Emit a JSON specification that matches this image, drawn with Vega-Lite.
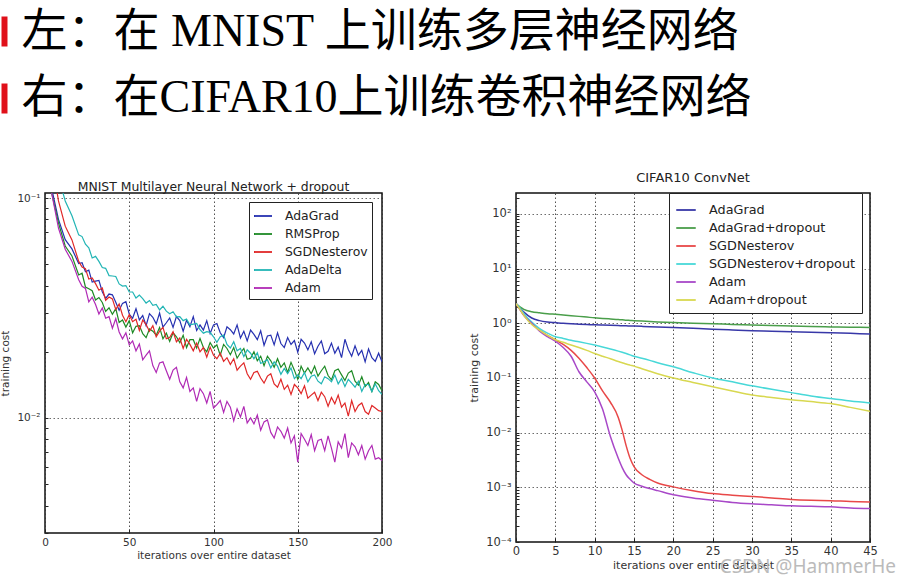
{
  "$schema": "https://vega.github.io/schema/vega-lite/v6.json",
  "padding": {"left": -14, "top": 0, "right": 0, "bottom": 0},
  "background": "white",
  "spacing": 40,
  "title": {"text": "CSDN @HammerHe", "orient": "bottom", "anchor": "end", "fontSize": 19, "color": "#bbbbbb", "font": "Noto Sans", "fontWeight": "normal", "offset": -13, "dx": 18},
  "config": {
    "font": "DejaVu Sans",
    "view": {"stroke": "#111", "strokeWidth": 1.5},
    "axis": {"labelFont": "DejaVu Sans", "titleFont": "DejaVu Sans", "labelColor": "#333", "titleColor": "#333", "titleFontWeight": "normal", "domain": false, "gridColor": "#333", "gridDash": [1.5, 2.5], "gridOpacity": 0.85, "tickColor": "#222"},
    "legend": {"labelFont": "DejaVu Sans", "labelColor": "#222", "symbolType": "stroke", "fillColor": "white", "strokeColor": "#222", "title": null}
  },
  "datasets": {
    "mnist": [
      {"it": 0, "AdaGrad": 0.25, "RMSProp": 0.2, "SGDNesterov": 0.35, "AdaDelta": 0.35, "Adam": 0.2},
      {"it": 4, "AdaGrad": 0.11, "RMSProp": 0.105, "SGDNesterov": 0.15, "AdaDelta": 0.2, "Adam": 0.105},
      {"it": 8, "AdaGrad": 0.080, "RMSProp": 0.077, "SGDNesterov": 0.097, "AdaDelta": 0.125, "Adam": 0.073},
      {"it": 12, "AdaGrad": 0.0647, "RMSProp": 0.0605, "SGDNesterov": 0.0745, "AdaDelta": 0.097, "Adam": 0.0585},
      {"it": 16, "AdaGrad": 0.0587, "RMSProp": 0.0545, "SGDNesterov": 0.0645, "AdaDelta": 0.083, "Adam": 0.0515},
      {"it": 20, "AdaGrad": 0.0504, "RMSProp": 0.0447, "SGDNesterov": 0.0515, "AdaDelta": 0.068, "Adam": 0.0425},
      {"it": 22, "AdaGrad": 0.0508, "RMSProp": 0.0455, "SGDNesterov": 0.0485, "AdaDelta": 0.0668, "Adam": 0.0397},
      {"it": 24, "AdaGrad": 0.0462, "RMSProp": 0.0394, "SGDNesterov": 0.0477, "AdaDelta": 0.0617, "Adam": 0.0388},
      {"it": 26, "AdaGrad": 0.0470, "RMSProp": 0.0387, "SGDNesterov": 0.0428, "AdaDelta": 0.0594, "Adam": 0.0337},
      {"it": 28, "AdaGrad": 0.0415, "RMSProp": 0.0379, "SGDNesterov": 0.0433, "AdaDelta": 0.0534, "Adam": 0.0354},
      {"it": 30, "AdaGrad": 0.0419, "RMSProp": 0.0344, "SGDNesterov": 0.0408, "AdaDelta": 0.0543, "Adam": 0.0328},
      {"it": 32, "AdaGrad": 0.0422, "RMSProp": 0.0353, "SGDNesterov": 0.0381, "AdaDelta": 0.0515, "Adam": 0.0297},
      {"it": 34, "AdaGrad": 0.0375, "RMSProp": 0.0335, "SGDNesterov": 0.0390, "AdaDelta": 0.0483, "Adam": 0.0316},
      {"it": 36, "AdaGrad": 0.0350, "RMSProp": 0.0305, "SGDNesterov": 0.0343, "AdaDelta": 0.0479, "Adam": 0.0284},
      {"it": 38, "AdaGrad": 0.0366, "RMSProp": 0.0317, "SGDNesterov": 0.0355, "AdaDelta": 0.0444, "Adam": 0.0289},
      {"it": 40, "AdaGrad": 0.0363, "RMSProp": 0.0296, "SGDNesterov": 0.0348, "AdaDelta": 0.0442, "Adam": 0.0256},
      {"it": 42, "AdaGrad": 0.0336, "RMSProp": 0.0314, "SGDNesterov": 0.0311, "AdaDelta": 0.0440, "Adam": 0.0283},
      {"it": 44, "AdaGrad": 0.0309, "RMSProp": 0.0272, "SGDNesterov": 0.0330, "AdaDelta": 0.0407, "Adam": 0.0246},
      {"it": 46, "AdaGrad": 0.0332, "RMSProp": 0.0279, "SGDNesterov": 0.0293, "AdaDelta": 0.0398, "Adam": 0.0229},
      {"it": 48, "AdaGrad": 0.0338, "RMSProp": 0.0259, "SGDNesterov": 0.0274, "AdaDelta": 0.0400, "Adam": 0.0244},
      {"it": 50, "AdaGrad": 0.0297, "RMSProp": 0.0277, "SGDNesterov": 0.0295, "AdaDelta": 0.0374, "Adam": 0.0215},
      {"it": 52, "AdaGrad": 0.0284, "RMSProp": 0.0244, "SGDNesterov": 0.0274, "AdaDelta": 0.0374, "Adam": 0.0224},
      {"it": 54, "AdaGrad": 0.0314, "RMSProp": 0.0261, "SGDNesterov": 0.0281, "AdaDelta": 0.0351, "Adam": 0.0202},
      {"it": 56, "AdaGrad": 0.0279, "RMSProp": 0.0263, "SGDNesterov": 0.0250, "AdaDelta": 0.0362, "Adam": 0.0217},
      {"it": 58, "AdaGrad": 0.0292, "RMSProp": 0.0242, "SGDNesterov": 0.0279, "AdaDelta": 0.0349, "Adam": 0.0184},
      {"it": 60, "AdaGrad": 0.0263, "RMSProp": 0.0232, "SGDNesterov": 0.0266, "AdaDelta": 0.0333, "Adam": 0.0193},
      {"it": 62, "AdaGrad": 0.0298, "RMSProp": 0.0254, "SGDNesterov": 0.0248, "AdaDelta": 0.0342, "Adam": 0.0202},
      {"it": 64, "AdaGrad": 0.0287, "RMSProp": 0.0248, "SGDNesterov": 0.0263, "AdaDelta": 0.0325, "Adam": 0.0173},
      {"it": 66, "AdaGrad": 0.0268, "RMSProp": 0.0238, "SGDNesterov": 0.0234, "AdaDelta": 0.0328, "Adam": 0.0161},
      {"it": 68, "AdaGrad": 0.0300, "RMSProp": 0.0258, "SGDNesterov": 0.0248, "AdaDelta": 0.0310, "Adam": 0.0178},
      {"it": 70, "AdaGrad": 0.0259, "RMSProp": 0.0229, "SGDNesterov": 0.0258, "AdaDelta": 0.0322, "Adam": 0.0180},
      {"it": 72, "AdaGrad": 0.0271, "RMSProp": 0.0243, "SGDNesterov": 0.0229, "AdaDelta": 0.0306, "Adam": 0.0164},
      {"it": 74, "AdaGrad": 0.0285, "RMSProp": 0.0223, "SGDNesterov": 0.0232, "AdaDelta": 0.0298, "Adam": 0.0150},
      {"it": 76, "AdaGrad": 0.0258, "RMSProp": 0.0244, "SGDNesterov": 0.0247, "AdaDelta": 0.0304, "Adam": 0.0165},
      {"it": 78, "AdaGrad": 0.0289, "RMSProp": 0.0234, "SGDNesterov": 0.0222, "AdaDelta": 0.0288, "Adam": 0.0170},
      {"it": 80, "AdaGrad": 0.0277, "RMSProp": 0.0220, "SGDNesterov": 0.0231, "AdaDelta": 0.0289, "Adam": 0.0146},
      {"it": 82, "AdaGrad": 0.0248, "RMSProp": 0.0238, "SGDNesterov": 0.0207, "AdaDelta": 0.0277, "Adam": 0.0137},
      {"it": 84, "AdaGrad": 0.0278, "RMSProp": 0.0209, "SGDNesterov": 0.0228, "AdaDelta": 0.0282, "Adam": 0.0153},
      {"it": 86, "AdaGrad": 0.0260, "RMSProp": 0.0227, "SGDNesterov": 0.0216, "AdaDelta": 0.0265, "Adam": 0.0132},
      {"it": 88, "AdaGrad": 0.0289, "RMSProp": 0.0227, "SGDNesterov": 0.0202, "AdaDelta": 0.0267, "Adam": 0.0137},
      {"it": 90, "AdaGrad": 0.0250, "RMSProp": 0.0208, "SGDNesterov": 0.0219, "AdaDelta": 0.0269, "Adam": 0.0119},
      {"it": 92, "AdaGrad": 0.0265, "RMSProp": 0.0230, "SGDNesterov": 0.0200, "AdaDelta": 0.0252, "Adam": 0.0136},
      {"it": 94, "AdaGrad": 0.0251, "RMSProp": 0.0209, "SGDNesterov": 0.0209, "AdaDelta": 0.0243, "Adam": 0.0129},
      {"it": 96, "AdaGrad": 0.0277, "RMSProp": 0.0200, "SGDNesterov": 0.0189, "AdaDelta": 0.0247, "Adam": 0.0117},
      {"it": 98, "AdaGrad": 0.0242, "RMSProp": 0.0220, "SGDNesterov": 0.0210, "AdaDelta": 0.0245, "Adam": 0.0132},
      {"it": 100, "AdaGrad": 0.0265, "RMSProp": 0.0208, "SGDNesterov": 0.0193, "AdaDelta": 0.0234, "Adam": 0.0111},
      {"it": 102, "AdaGrad": 0.0269, "RMSProp": 0.0215, "SGDNesterov": 0.0186, "AdaDelta": 0.0221, "Adam": 0.0115},
      {"it": 104, "AdaGrad": 0.0244, "RMSProp": 0.0193, "SGDNesterov": 0.0197, "AdaDelta": 0.0234, "Adam": 0.0120},
      {"it": 106, "AdaGrad": 0.0232, "RMSProp": 0.0216, "SGDNesterov": 0.0181, "AdaDelta": 0.0238, "Adam": 0.0106},
      {"it": 108, "AdaGrad": 0.0260, "RMSProp": 0.0207, "SGDNesterov": 0.0188, "AdaDelta": 0.0216, "Adam": 0.0119},
      {"it": 110, "AdaGrad": 0.0252, "RMSProp": 0.0194, "SGDNesterov": 0.0175, "AdaDelta": 0.0208, "Adam": 0.0112},
      {"it": 112, "AdaGrad": 0.0241, "RMSProp": 0.0209, "SGDNesterov": 0.0186, "AdaDelta": 0.0222, "Adam": 0.0097},
      {"it": 114, "AdaGrad": 0.0265, "RMSProp": 0.0187, "SGDNesterov": 0.0165, "AdaDelta": 0.0202, "Adam": 0.0110},
      {"it": 116, "AdaGrad": 0.0231, "RMSProp": 0.0198, "SGDNesterov": 0.0172, "AdaDelta": 0.0207, "Adam": 0.0101},
      {"it": 118, "AdaGrad": 0.0248, "RMSProp": 0.0207, "SGDNesterov": 0.0178, "AdaDelta": 0.0190, "Adam": 0.0113},
      {"it": 120, "AdaGrad": 0.0224, "RMSProp": 0.0185, "SGDNesterov": 0.0159, "AdaDelta": 0.0204, "Adam": 0.0095},
      {"it": 122, "AdaGrad": 0.0251, "RMSProp": 0.0187, "SGDNesterov": 0.0150, "AdaDelta": 0.0197, "Adam": 0.0100},
      {"it": 124, "AdaGrad": 0.0240, "RMSProp": 0.0200, "SGDNesterov": 0.0161, "AdaDelta": 0.0186, "Adam": 0.0094},
      {"it": 126, "AdaGrad": 0.0227, "RMSProp": 0.0182, "SGDNesterov": 0.0163, "AdaDelta": 0.0198, "Adam": 0.0103},
      {"it": 128, "AdaGrad": 0.0249, "RMSProp": 0.0191, "SGDNesterov": 0.0152, "AdaDelta": 0.0177, "Adam": 0.0088},
      {"it": 130, "AdaGrad": 0.0214, "RMSProp": 0.0173, "SGDNesterov": 0.0144, "AdaDelta": 0.0180, "Adam": 0.0096},
      {"it": 132, "AdaGrad": 0.0236, "RMSProp": 0.0191, "SGDNesterov": 0.0155, "AdaDelta": 0.0184, "Adam": 0.0098},
      {"it": 134, "AdaGrad": 0.0238, "RMSProp": 0.0182, "SGDNesterov": 0.0159, "AdaDelta": 0.0169, "Adam": 0.0086},
      {"it": 136, "AdaGrad": 0.0215, "RMSProp": 0.0170, "SGDNesterov": 0.0143, "AdaDelta": 0.0180, "Adam": 0.0081},
      {"it": 138, "AdaGrad": 0.0244, "RMSProp": 0.0186, "SGDNesterov": 0.0138, "AdaDelta": 0.0172, "Adam": 0.0091},
      {"it": 140, "AdaGrad": 0.0218, "RMSProp": 0.0170, "SGDNesterov": 0.0150, "AdaDelta": 0.0158, "Adam": 0.0087},
      {"it": 142, "AdaGrad": 0.0209, "RMSProp": 0.0178, "SGDNesterov": 0.0135, "AdaDelta": 0.0168, "Adam": 0.0081},
      {"it": 144, "AdaGrad": 0.0232, "RMSProp": 0.0161, "SGDNesterov": 0.0141, "AdaDelta": 0.0159, "Adam": 0.0090},
      {"it": 146, "AdaGrad": 0.0216, "RMSProp": 0.0179, "SGDNesterov": 0.0128, "AdaDelta": 0.0169, "Adam": 0.0077},
      {"it": 148, "AdaGrad": 0.0225, "RMSProp": 0.0165, "SGDNesterov": 0.0142, "AdaDelta": 0.0151, "Adam": 0.0083},
      {"it": 150, "AdaGrad": 0.0199, "RMSProp": 0.0150, "SGDNesterov": 0.0137, "AdaDelta": 0.0157, "Adam": 0.0063},
      {"it": 152, "AdaGrad": 0.0228, "RMSProp": 0.0172, "SGDNesterov": 0.0129, "AdaDelta": 0.0151, "Adam": 0.0085},
      {"it": 154, "AdaGrad": 0.0219, "RMSProp": 0.0160, "SGDNesterov": 0.0140, "AdaDelta": 0.0161, "Adam": 0.0080},
      {"it": 156, "AdaGrad": 0.0204, "RMSProp": 0.0169, "SGDNesterov": 0.0123, "AdaDelta": 0.0146, "Adam": 0.0075},
      {"it": 158, "AdaGrad": 0.0222, "RMSProp": 0.0159, "SGDNesterov": 0.0127, "AdaDelta": 0.0155, "Adam": 0.0084},
      {"it": 160, "AdaGrad": 0.0196, "RMSProp": 0.0172, "SGDNesterov": 0.0131, "AdaDelta": 0.0157, "Adam": 0.0071},
      {"it": 162, "AdaGrad": 0.0212, "RMSProp": 0.0155, "SGDNesterov": 0.0120, "AdaDelta": 0.0147, "Adam": 0.0079},
      {"it": 164, "AdaGrad": 0.0224, "RMSProp": 0.0164, "SGDNesterov": 0.0131, "AdaDelta": 0.0143, "Adam": 0.0080},
      {"it": 166, "AdaGrad": 0.0196, "RMSProp": 0.0172, "SGDNesterov": 0.0125, "AdaDelta": 0.0154, "Adam": 0.0071},
      {"it": 168, "AdaGrad": 0.0201, "RMSProp": 0.0156, "SGDNesterov": 0.0113, "AdaDelta": 0.0151, "Adam": 0.0083},
      {"it": 170, "AdaGrad": 0.0219, "RMSProp": 0.0149, "SGDNesterov": 0.0124, "AdaDelta": 0.0146, "Adam": 0.0073},
      {"it": 172, "AdaGrad": 0.0197, "RMSProp": 0.0164, "SGDNesterov": 0.0116, "AdaDelta": 0.0157, "Adam": 0.0063},
      {"it": 174, "AdaGrad": 0.0210, "RMSProp": 0.0167, "SGDNesterov": 0.0127, "AdaDelta": 0.0143, "Adam": 0.0078},
      {"it": 176, "AdaGrad": 0.0188, "RMSProp": 0.0157, "SGDNesterov": 0.0112, "AdaDelta": 0.0151, "Adam": 0.0073},
      {"it": 178, "AdaGrad": 0.0228, "RMSProp": 0.0148, "SGDNesterov": 0.0117, "AdaDelta": 0.0139, "Adam": 0.0085},
      {"it": 180, "AdaGrad": 0.0205, "RMSProp": 0.0160, "SGDNesterov": 0.0102, "AdaDelta": 0.0150, "Adam": 0.0066},
      {"it": 182, "AdaGrad": 0.0191, "RMSProp": 0.0164, "SGDNesterov": 0.0120, "AdaDelta": 0.0144, "Adam": 0.0077},
      {"it": 184, "AdaGrad": 0.0213, "RMSProp": 0.0147, "SGDNesterov": 0.0107, "AdaDelta": 0.0138, "Adam": 0.0074},
      {"it": 186, "AdaGrad": 0.0193, "RMSProp": 0.0141, "SGDNesterov": 0.0114, "AdaDelta": 0.0147, "Adam": 0.0068},
      {"it": 188, "AdaGrad": 0.0203, "RMSProp": 0.0154, "SGDNesterov": 0.0117, "AdaDelta": 0.0132, "Adam": 0.0075},
      {"it": 190, "AdaGrad": 0.0180, "RMSProp": 0.0139, "SGDNesterov": 0.0107, "AdaDelta": 0.0142, "Adam": 0.0065},
      {"it": 192, "AdaGrad": 0.0206, "RMSProp": 0.0145, "SGDNesterov": 0.0104, "AdaDelta": 0.0142, "Adam": 0.0071},
      {"it": 194, "AdaGrad": 0.0188, "RMSProp": 0.0132, "SGDNesterov": 0.0114, "AdaDelta": 0.0132, "Adam": 0.0075},
      {"it": 196, "AdaGrad": 0.0181, "RMSProp": 0.0146, "SGDNesterov": 0.0111, "AdaDelta": 0.0143, "Adam": 0.0065},
      {"it": 198, "AdaGrad": 0.0197, "RMSProp": 0.0142, "SGDNesterov": 0.0108, "AdaDelta": 0.0133, "Adam": 0.0066},
      {"it": 200, "AdaGrad": 0.0180, "RMSProp": 0.0133, "SGDNesterov": 0.0107, "AdaDelta": 0.0128, "Adam": 0.0064}
    ],
    "cifar": [
      {"it": 0, "AdaGrad": 2.3, "AdaGrad+dropout": 2.3, "SGDNesterov": 2.3, "SGDNesterov+dropout": 2.3, "Adam": 2.3, "Adam+dropout": 2.3},
      {"it": 0.5, "AdaGrad": 1.9, "AdaGrad+dropout": 2.0, "SGDNesterov": 1.8, "SGDNesterov+dropout": 1.9, "Adam": 1.8, "Adam+dropout": 1.8},
      {"it": 1, "AdaGrad": 1.6, "AdaGrad+dropout": 1.8, "SGDNesterov": 1.4, "SGDNesterov+dropout": 1.5, "Adam": 1.4, "Adam+dropout": 1.4},
      {"it": 2, "AdaGrad": 1.25, "AdaGrad+dropout": 1.63, "SGDNesterov": 1.0, "SGDNesterov+dropout": 1.05, "Adam": 1.0, "Adam+dropout": 0.95},
      {"it": 3, "AdaGrad": 1.12, "AdaGrad+dropout": 1.56, "SGDNesterov": 0.75, "SGDNesterov+dropout": 0.8, "Adam": 0.72, "Adam+dropout": 0.75},
      {"it": 4, "AdaGrad": 1.06, "AdaGrad+dropout": 1.5, "SGDNesterov": 0.6, "SGDNesterov+dropout": 0.66, "Adam": 0.57, "Adam+dropout": 0.6},
      {"it": 5, "AdaGrad": 1.03, "AdaGrad+dropout": 1.46, "SGDNesterov": 0.5, "SGDNesterov+dropout": 0.57, "Adam": 0.47, "Adam+dropout": 0.5},
      {"it": 6, "AdaGrad": 1.0, "AdaGrad+dropout": 1.42, "SGDNesterov": 0.41, "SGDNesterov+dropout": 0.53, "Adam": 0.36, "Adam+dropout": 0.45},
      {"it": 7, "AdaGrad": 0.98, "AdaGrad+dropout": 1.38, "SGDNesterov": 0.32, "SGDNesterov+dropout": 0.49, "Adam": 0.25, "Adam+dropout": 0.4},
      {"it": 8, "AdaGrad": 0.965, "AdaGrad+dropout": 1.34, "SGDNesterov": 0.23, "SGDNesterov+dropout": 0.46, "Adam": 0.13, "Adam+dropout": 0.36},
      {"it": 9, "AdaGrad": 0.95, "AdaGrad+dropout": 1.3, "SGDNesterov": 0.155, "SGDNesterov+dropout": 0.43, "Adam": 0.085, "Adam+dropout": 0.32},
      {"it": 10, "AdaGrad": 0.94, "AdaGrad+dropout": 1.26, "SGDNesterov": 0.1, "SGDNesterov+dropout": 0.40, "Adam": 0.056, "Adam+dropout": 0.28},
      {"it": 11, "AdaGrad": 0.93, "AdaGrad+dropout": 1.23, "SGDNesterov": 0.058, "SGDNesterov+dropout": 0.37, "Adam": 0.027, "Adam+dropout": 0.25},
      {"it": 12, "AdaGrad": 0.92, "AdaGrad+dropout": 1.2, "SGDNesterov": 0.036, "SGDNesterov+dropout": 0.34, "Adam": 0.0085, "Adam+dropout": 0.225},
      {"it": 13, "AdaGrad": 0.91, "AdaGrad+dropout": 1.17, "SGDNesterov": 0.019, "SGDNesterov+dropout": 0.31, "Adam": 0.0034, "Adam+dropout": 0.2},
      {"it": 13.5, "AdaGrad": 0.905, "AdaGrad+dropout": 1.16, "SGDNesterov": 0.011, "SGDNesterov+dropout": 0.295, "Adam": 0.0023, "Adam+dropout": 0.19},
      {"it": 14, "AdaGrad": 0.9, "AdaGrad+dropout": 1.14, "SGDNesterov": 0.0058, "SGDNesterov+dropout": 0.28, "Adam": 0.0017, "Adam+dropout": 0.18},
      {"it": 14.5, "AdaGrad": 0.895, "AdaGrad+dropout": 1.13, "SGDNesterov": 0.0034, "SGDNesterov+dropout": 0.265, "Adam": 0.0014, "Adam+dropout": 0.172},
      {"it": 15, "AdaGrad": 0.89, "AdaGrad+dropout": 1.12, "SGDNesterov": 0.0024, "SGDNesterov+dropout": 0.25, "Adam": 0.0012, "Adam+dropout": 0.165},
      {"it": 16, "AdaGrad": 0.88, "AdaGrad+dropout": 1.1, "SGDNesterov": 0.0017, "SGDNesterov+dropout": 0.23, "Adam": 0.00105, "Adam+dropout": 0.148},
      {"it": 17, "AdaGrad": 0.87, "AdaGrad+dropout": 1.08, "SGDNesterov": 0.0014, "SGDNesterov+dropout": 0.21, "Adam": 0.00095, "Adam+dropout": 0.133},
      {"it": 18, "AdaGrad": 0.86, "AdaGrad+dropout": 1.06, "SGDNesterov": 0.0012, "SGDNesterov+dropout": 0.19, "Adam": 0.00087, "Adam+dropout": 0.12},
      {"it": 20, "AdaGrad": 0.84, "AdaGrad+dropout": 1.03, "SGDNesterov": 0.00102, "SGDNesterov+dropout": 0.16, "Adam": 0.00073, "Adam+dropout": 0.10},
      {"it": 22.5, "AdaGrad": 0.81, "AdaGrad+dropout": 1.0, "SGDNesterov": 0.00087, "SGDNesterov+dropout": 0.125, "Adam": 0.00064, "Adam+dropout": 0.083},
      {"it": 25, "AdaGrad": 0.78, "AdaGrad+dropout": 0.98, "SGDNesterov": 0.00077, "SGDNesterov+dropout": 0.10, "Adam": 0.00058, "Adam+dropout": 0.069},
      {"it": 27.5, "AdaGrad": 0.755, "AdaGrad+dropout": 0.955, "SGDNesterov": 0.00072, "SGDNesterov+dropout": 0.085, "Adam": 0.00053, "Adam+dropout": 0.058},
      {"it": 30, "AdaGrad": 0.73, "AdaGrad+dropout": 0.935, "SGDNesterov": 0.00068, "SGDNesterov+dropout": 0.072, "Adam": 0.0005, "Adam+dropout": 0.049},
      {"it": 32.5, "AdaGrad": 0.715, "AdaGrad+dropout": 0.915, "SGDNesterov": 0.00064, "SGDNesterov+dropout": 0.062, "Adam": 0.00048, "Adam+dropout": 0.044},
      {"it": 35, "AdaGrad": 0.70, "AdaGrad+dropout": 0.895, "SGDNesterov": 0.0006, "SGDNesterov+dropout": 0.054, "Adam": 0.00046, "Adam+dropout": 0.040},
      {"it": 37.5, "AdaGrad": 0.685, "AdaGrad+dropout": 0.875, "SGDNesterov": 0.00058, "SGDNesterov+dropout": 0.047, "Adam": 0.00045, "Adam+dropout": 0.037},
      {"it": 40, "AdaGrad": 0.67, "AdaGrad+dropout": 0.86, "SGDNesterov": 0.00057, "SGDNesterov+dropout": 0.042, "Adam": 0.00044, "Adam+dropout": 0.034},
      {"it": 42.5, "AdaGrad": 0.655, "AdaGrad+dropout": 0.85, "SGDNesterov": 0.00055, "SGDNesterov+dropout": 0.038, "Adam": 0.00042, "Adam+dropout": 0.029},
      {"it": 45, "AdaGrad": 0.64, "AdaGrad+dropout": 0.84, "SGDNesterov": 0.00054, "SGDNesterov+dropout": 0.035, "Adam": 0.00041, "Adam+dropout": 0.0245}
    ]
  },
  "vconcat": [
    {
      "width": 6,
      "height": 130,
      "data": {"values": [{"line": "左：在 MNIST 上训练多层神经网络"}, {"line": "右：在CIFAR10上训练卷积神经网络"}]},
      "mark": {"type": "bar", "opacity": 0},
      "view": {"stroke": null},
      "encoding": {
        "y": {
          "field": "line", "type": "nominal", "sort": null, "title": null,
          "scale": {"paddingInner": 0.55, "paddingOuter": 0.25},
          "axis": {"orient": "left", "offset": 38, "ticks": true, "tickSize": 6, "tickWidth": 30, "tickColor": "#e0101a", "tickCap": "butt", "tickOpacity": 1, "domain": false, "grid": false, "labelAlign": "left", "labelPadding": -20, "labelFontSize": 46, "labelFont": "Liberation Serif, Noto Sans CJK SC", "labelColor": "#000", "labelLimit": 2000, "labelBaseline": "middle"}
        }
      }
    },
    {
      "spacing": 74,
      "resolve": {"scale": {"color": "independent", "x": "independent", "y": "independent"}, "legend": {"color": "independent"}},
      "hconcat": [
        {
          "width": 337,
          "height": 340,
          "title": {"text": "MNIST Multilayer Neural Network + dropout", "fontSize": 12.4, "fontWeight": "normal", "font": "DejaVu Sans", "color": "#222", "offset": 0},
          "data": {"name": "mnist"},
          "transform": [{"fold": ["AdaGrad", "RMSProp", "SGDNesterov", "AdaDelta", "Adam"], "as": ["optimizer", "cost"]}],
          "mark": {"type": "line", "clip": true, "strokeWidth": 1.2},
          "encoding": {
            "x": {"field": "it", "type": "quantitative", "scale": {"domain": [0, 200], "nice": false},
              "axis": {"values": [0, 50, 100, 150, 200], "title": "iterations over entire dataset", "labelFontSize": 10.5, "titleFontSize": 10.5, "tickSize": -4, "labelPadding": 8, "titlePadding": 3, "labelFlush": false}},
            "y": {"field": "cost", "type": "quantitative",
              "scale": {"type": "log", "domain": [0.003, 0.1054], "nice": false},
              "axis": {"values": [0.003, 0.004, 0.005, 0.006, 0.007, 0.008, 0.009, 0.01, 0.02, 0.03, 0.04, 0.05, 0.06, 0.07, 0.08, 0.09, 0.1],
                "labelExpr": "datum.value == 0.1 ? '10⁻¹' : (datum.value == 0.01 ? '10⁻²' : '')",
                "gridOpacity": {"condition": {"test": "datum.value == 0.1 || datum.value == 0.01", "value": 0.85}, "value": 0},
                "title": "training cost", "labelFontSize": 10.5, "titleFontSize": 10.5, "tickSize": -3, "labelPadding": 8, "titlePadding": 6, "labelFlush": false}},
            "color": {"field": "optimizer", "type": "nominal",
              "scale": {"domain": ["AdaGrad", "RMSProp", "SGDNesterov", "AdaDelta", "Adam"], "range": ["#2530b0", "#1e8a25", "#e02828", "#22b5b5", "#b02ab5"]},
              "legend": {"orient": "none", "legendX": 204, "legendY": 9, "labelFontSize": 12.4, "symbolSize": 324, "symbolStrokeWidth": 1.8, "rowPadding": 1, "padding": 4, "labelOffset": 12}}
          }
        },
        {
          "width": 354,
          "height": 349,
          "title": {"text": "CIFAR10 ConvNet", "fontSize": 13, "fontWeight": "normal", "font": "DejaVu Sans", "color": "#222", "offset": 8},
          "data": {"name": "cifar"},
          "transform": [{"fold": ["AdaGrad", "AdaGrad+dropout", "SGDNesterov", "SGDNesterov+dropout", "Adam", "Adam+dropout"], "as": ["optimizer", "cost"]}],
          "mark": {"type": "line", "clip": true, "strokeWidth": 1.5, "interpolate": "monotone"},
          "encoding": {
            "x": {"field": "it", "type": "quantitative", "scale": {"domain": [0, 45], "nice": false},
              "axis": {"values": [0, 5, 10, 15, 20, 25, 30, 35, 40, 45], "title": "iterations over entire dataset", "labelFontSize": 11.5, "titleFontSize": 11, "tickSize": -4, "labelPadding": 7, "titlePadding": 3, "labelFlush": false}},
            "y": {"field": "cost", "type": "quantitative",
              "scale": {"type": "log", "domain": [0.0001, 242], "nice": false},
              "axis": {"values": [0.0001, 0.0002, 0.0003, 0.0004, 0.0005, 0.0006, 0.0007, 0.0008, 0.0009, 0.001, 0.002, 0.003, 0.004, 0.005, 0.006, 0.007, 0.008, 0.009, 0.01, 0.02, 0.03, 0.04, 0.05, 0.06, 0.07, 0.08, 0.09, 0.1, 0.2, 0.3, 0.4, 0.5, 0.6, 0.7, 0.8, 0.9, 1, 2, 3, 4, 5, 6, 7, 8, 9, 10, 20, 30, 40, 50, 60, 70, 80, 90, 100, 200],
                "labelExpr": "datum.value == 100 ? '10²' : datum.value == 10 ? '10¹' : datum.value == 1 ? '10⁰' : datum.value == 0.1 ? '10⁻¹' : datum.value == 0.01 ? '10⁻²' : datum.value == 0.001 ? '10⁻³' : datum.value == 0.0001 ? '10⁻⁴' : ''",
                "gridOpacity": {"condition": {"test": "datum.value == 100 || datum.value == 10 || datum.value == 1 || datum.value == 0.1 || datum.value == 0.01 || datum.value == 0.001", "value": 0.85}, "value": 0},
                "title": "training cost", "labelFontSize": 11.5, "titleFontSize": 11, "tickSize": -3, "labelPadding": 8, "titlePadding": 6, "labelFlush": false}},
            "color": {"field": "optimizer", "type": "nominal",
              "scale": {"domain": ["AdaGrad", "AdaGrad+dropout", "SGDNesterov", "SGDNesterov+dropout", "Adam", "Adam+dropout"], "range": ["#3838a8", "#4a9e4a", "#e84848", "#48d8d8", "#a848c8", "#d8d850"]},
              "legend": {"orient": "none", "legendX": 153, "legendY": 0, "labelFontSize": 12.8, "symbolSize": 380, "symbolStrokeWidth": 1.8, "rowPadding": 0, "padding": 6, "labelOffset": 12}}
          }
        }
      ]
    }
  ]
}
